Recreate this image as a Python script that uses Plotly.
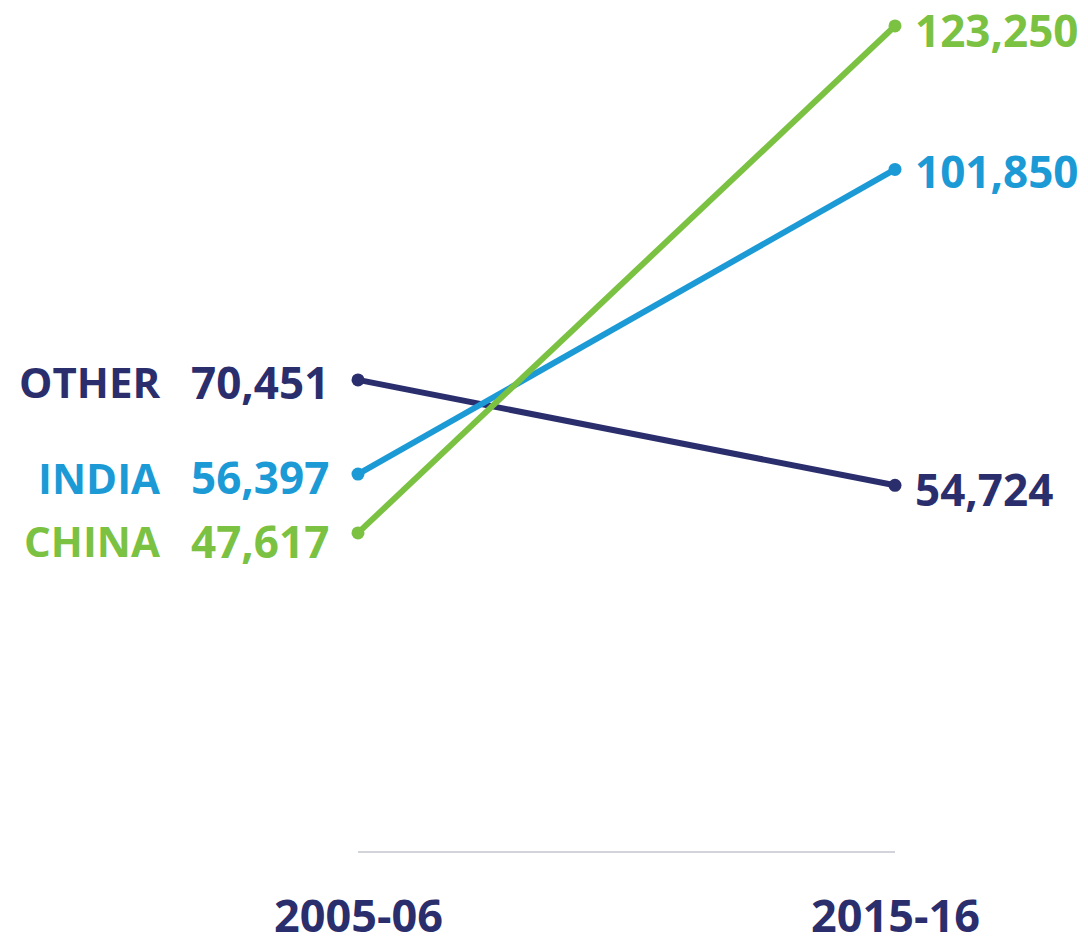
import plotly.graph_objects as go

periods = ["2005-06", "2015-16"]
categories = ["OTHER", "INDIA", "CHINA"]
values_2005 = [70451, 56397, 47617]
values_2015 = [54724, 101850, 123250]
colors = ["#2b2e6c", "#1b9ad6", "#7bc142"]

FONT = "Open Sans"
fig = go.Figure()

xs = [0, 1]
for cat, v0, v1, c in zip(categories, values_2005, values_2015, colors):
    fig.add_trace(go.Scatter(
        x=xs, y=[v0, v1], mode="lines+markers",
        line=dict(color=c, width=6), marker=dict(color=c, size=13),
        name=cat, showlegend=False, hoverinfo="skip"))

# baseline
fig.add_shape(type="line", x0=0, x1=1, y0=0, y1=0, xref="x", yref="y",
              line=dict(color="#d3d3da", width=2))

left_shift = {"OTHER": -2, "INDIA": -3, "CHINA": -8}
right_shift = {"OTHER": -4, "INDIA": -2, "CHINA": -4}
for cat, v0, v1, c in zip(categories, values_2005, values_2015, colors):
    fnt = dict(family=FONT, size=42, color=c, weight="bold")
    vfnt = dict(family=FONT, size=44, color=c, weight="bold")
    fig.add_annotation(x=0, y=v0, text=cat, showarrow=False, xanchor="right",
                       yanchor="middle", xshift=-196, yshift=left_shift[cat], font=fnt)
    fig.add_annotation(x=0, y=v0, text=f"{v0:,}", showarrow=False, xanchor="right",
                       yanchor="middle", xshift=-27, yshift=left_shift[cat], font=vfnt)
    fig.add_annotation(x=1, y=v1, text=f"{v1:,}", showarrow=False, xanchor="left",
                       yanchor="middle", xshift=19, yshift=right_shift[cat], font=vfnt,
                       borderpad=0)

for i, p in enumerate(periods):
    fig.add_annotation(x=xs[i], y=0, text=p, showarrow=False, xanchor="center",
                       yanchor="middle", yshift=-62, borderpad=0,
                       font=dict(family=FONT, size=45, color="#2b2e6c", weight="bold"))

W, H = 1080, 928
px_per_x = 537.0
x0 = -350 / px_per_x
x1 = x0 + W / px_per_x
val_per_px = (123250 - 54724) / (478 - 18)
y_top = 123250 + 18 * val_per_px
y_bot = 0 - (H - 844) * val_per_px

fig.update_layout(
    width=W, height=H,
    margin=dict(l=0, r=0, t=0, b=0),
    paper_bgcolor="white", plot_bgcolor="white",
    xaxis=dict(range=[x0, x1], visible=False, fixedrange=True),
    yaxis=dict(range=[y_bot, y_top], visible=False, fixedrange=True),
)

fig.write_html("out.html")
